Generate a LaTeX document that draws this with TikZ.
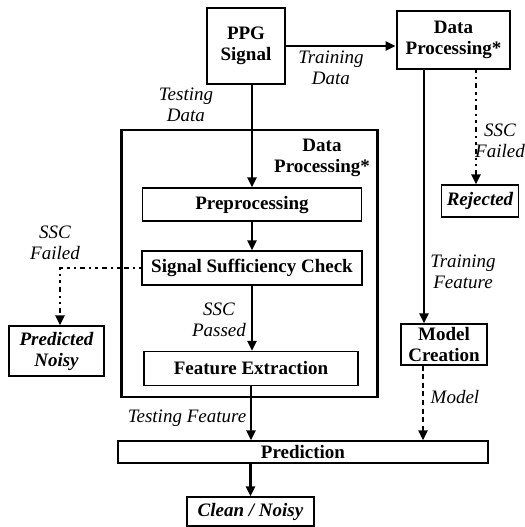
\documentclass[tikz,border=0pt]{standalone}
\usepackage{fontspec}
\setmainfont{Liberation Serif}
\usetikzlibrary{arrows.meta}
\begin{document}
\begin{tikzpicture}[x=0.5pt,y=-0.5pt,
  box/.style={draw,line width=0.6pt,inner sep=0pt,font=\fontsize{9.5}{10.5}\selectfont\bfseries,align=center},
  bigbox/.style={draw,line width=1.4pt,inner sep=0pt,font=\fontsize{9.5}{10.5}\selectfont\bfseries,align=center},
  lbl/.style={font=\fontsize{9.5}{10.5}\selectfont\itshape,align=center,inner sep=0pt},
  arr/.style={line width=1.1pt,-{Triangle[length=5pt,width=4.5pt]}},
  dotarr/.style={line width=1.1pt,dash pattern=on 1.2pt off 2pt on 1.2pt off 2pt on 2.5pt off 2pt,-{Triangle[length=5pt,width=4.5pt]}},
  dasharr/.style={line width=1.1pt,dash pattern=on 2.5pt off 1.8pt,-{Triangle[length=5pt,width=4.5pt]}}]
\useasboundingbox (0,0) rectangle (525,527);
% big testing box
\node[draw,line width=1.4pt,minimum width=128pt,minimum height=133.5pt,inner sep=0pt] (big) at (249.5,263.5) {};
\node[lbl,font=\fontsize{9.5}{10.5}\selectfont\bfseries] (bigl) at (322,158) {Data\\Processing*};
% nodes
\node[box,minimum width=39pt,minimum height=38pt] (ppg) at (246,46) {PPG\\Signal};
\node[bigbox,minimum width=56.5pt,minimum height=29pt] (dp) at (453.5,40) {Data\\Processing*};
\node[box,minimum width=109.5pt,minimum height=16.5pt] (pre) at (252,204.5) {Preprocessing};
\node[box,minimum width=110pt,minimum height=17pt] (ssc) at (252,268) {Signal Sufficiency Check};
\node[box,minimum width=107pt,minimum height=17pt] (fe) at (251,368.5) {Feature Extraction};
\node[box,minimum width=47.5pt,minimum height=25pt,font=\fontsize{9.5}{10.5}\selectfont\bfseries\itshape] (pn) at (56.5,351) {Predicted\\Noisy};
\node[box,minimum width=38.5pt,minimum height=16pt,font=\fontsize{9.5}{10.5}\selectfont\bfseries\itshape] (rej) at (480,201) {Rejected};
\node[box,minimum width=43pt,minimum height=20.5pt] (mc) at (444,344.5) {Model\\Creation};
\node[box,minimum width=185pt,minimum height=11pt] (pred) at (303,452) {Prediction};
\node[box,minimum width=63.5pt,minimum height=14.5pt,font=\fontsize{9.5}{10.5}\selectfont\bfseries\itshape] (cn) at (250.5,511.5) {Clean / Noisy};
% columns
\coordinate (tcol) at (424,0);
\coordinate (rcol) at (476,0);
\coordinate (mcol) at (423,0);
\coordinate (ncol) at (60,0);
% connectors
\draw[arr] (ppg.east) -- (dp.west |- ppg.east);
\draw[arr] (ppg.south -| pre.north) -- (pre.north);
\draw[arr] (pre.south) -- (ssc.north);
\draw[arr] (ssc.south) -- (fe.north -| ssc.south);
\draw[dotarr] (ssc.west) -- (ncol |- ssc.west) -- (ncol |- pn.north);
\draw[arr] (fe.south) -- (fe.south |- pred.north);
\draw[arr] (dp.south -| tcol) -- (mc.north -| tcol);
\draw[dotarr] (dp.south -| rcol) -- (rej.north -| rcol);
\draw[dasharr] (mc.south -| mcol) -- (pred.north -| mcol);
\draw[arr] (pred.south -| cn.north) -- (cn.north);
% labels
\node[lbl] (l1) at (331,68) {Training\\Data};
\node[lbl] (l2) at (186,105) {Testing\\Data};
\node[lbl] (l3) at (219,320) {SSC\\Passed};
\node[lbl] (l4) at (55,243) {SSC\\Failed};
\node[lbl] (l5) at (500,141) {SSC\\Failed};
\node[lbl] (l6) at (463,272) {Training\\Feature};
\node[lbl] (l7) at (187,418) {Testing Feature};
\node[lbl] (l8) at (455,397) {Model};
\end{tikzpicture}
\end{document}
